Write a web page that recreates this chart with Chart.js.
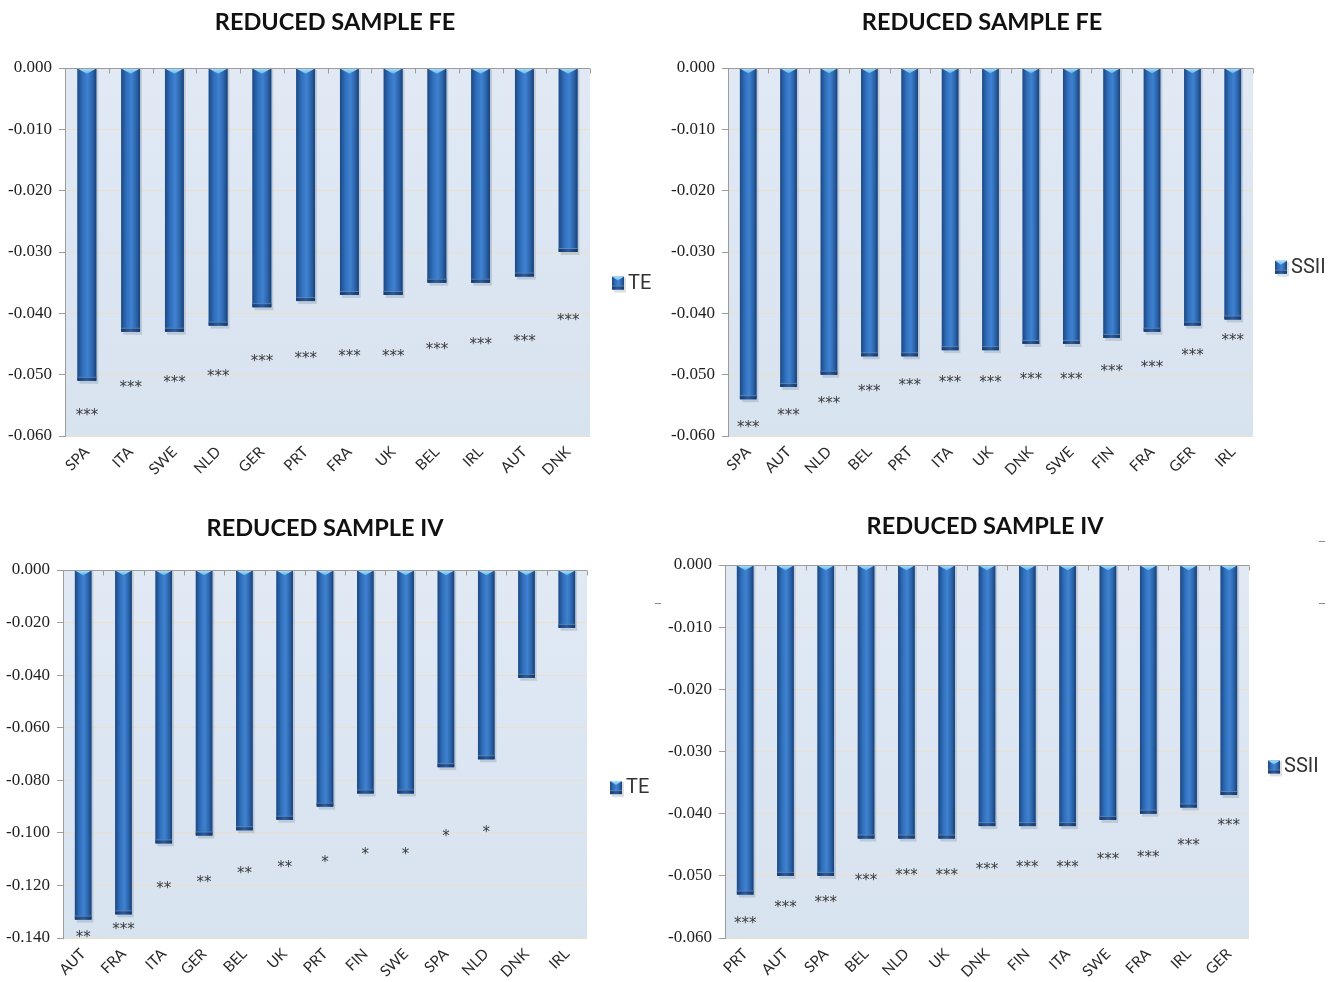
<!DOCTYPE html>
<html>
<head>
<meta charset="utf-8">
<script src="https://cdn.jsdelivr.net/npm/chart.js@4.4.1/dist/chart.umd.min.js"></script>
<style>
  html, body { margin: 0; padding: 0; background: #ffffff; width: 1330px; height: 982px; overflow: hidden; }
  .panel { position: absolute; }
  .dash { position: absolute; width: 6px; height: 1px; background: #8a8a8a; }
</style>
</head>
<body>
<div class="panel" style="left:0;top:0;"><canvas id="feTe" width="665" height="490"></canvas></div>
<div class="panel" style="left:665px;top:0;"><canvas id="feSsii" width="665" height="490"></canvas></div>
<div class="panel" style="left:0;top:490px;"><canvas id="ivTe" width="665" height="492"></canvas></div>
<div class="panel" style="left:665px;top:490px;"><canvas id="ivSsii" width="665" height="492"></canvas></div>
<div class="dash" style="left:655px;top:603px;"></div>
<div class="dash" style="left:1319px;top:541px;"></div>
<div class="dash" style="left:1319px;top:603px;"></div>

<script>
// ---- Reduced sample, fixed effects: TE ----
const feTeCountries = ['SPA', 'ITA', 'SWE', 'NLD', 'GER', 'PRT', 'FRA', 'UK', 'BEL', 'IRL', 'AUT', 'DNK'];
const feTeValues    = [-0.051, -0.043, -0.043, -0.042, -0.039, -0.038, -0.037, -0.037, -0.035, -0.035, -0.034, -0.030];
const feTeStars     = ['***', '***', '***', '***', '***', '***', '***', '***', '***', '***', '***', '***'];
const feTeStarAt    = [-0.0560, -0.0513, -0.0505, -0.0495, -0.0471, -0.0466, -0.0463, -0.0463, -0.0451, -0.0443, -0.0438, -0.0404];

// ---- Reduced sample, fixed effects: SSII ----
const feSsiiCountries = ['SPA', 'AUT', 'NLD', 'BEL', 'PRT', 'ITA', 'UK', 'DNK', 'SWE', 'FIN', 'FRA', 'GER', 'IRL'];
const feSsiiValues    = [-0.054, -0.052, -0.050, -0.047, -0.047, -0.046, -0.046, -0.045, -0.045, -0.044, -0.043, -0.042, -0.041];
const feSsiiStars     = ['***', '***', '***', '***', '***', '***', '***', '***', '***', '***', '***', '***', '***'];
const feSsiiStarAt    = [-0.0579, -0.0559, -0.0540, -0.0520, -0.0511, -0.0505, -0.0505, -0.0501, -0.0501, -0.0487, -0.0481, -0.0462, -0.0437];

// ---- Reduced sample, instrumental variables: TE ----
const ivTeCountries = ['AUT', 'FRA', 'ITA', 'GER', 'BEL', 'UK', 'PRT', 'FIN', 'SWE', 'SPA', 'NLD', 'DNK', 'IRL'];
const ivTeValues    = [-0.133, -0.131, -0.104, -0.101, -0.099, -0.095, -0.090, -0.085, -0.085, -0.075, -0.072, -0.041, -0.022];
const ivTeStars     = ['**', '***', '**', '**', '**', '**', '*', '*', '*', '*', '*', '', ''];
const ivTeStarAt    = [-0.1381, -0.1352, -0.1196, -0.1171, -0.1138, -0.1116, -0.1095, -0.1066, -0.1066, -0.0998, -0.0983, null, null];

// ---- Reduced sample, instrumental variables: SSII ----
const ivSsiiCountries = ['PRT', 'AUT', 'SPA', 'BEL', 'NLD', 'UK', 'DNK', 'FIN', 'ITA', 'SWE', 'FRA', 'IRL', 'GER'];
const ivSsiiValues    = [-0.053, -0.050, -0.050, -0.044, -0.044, -0.044, -0.042, -0.042, -0.042, -0.041, -0.040, -0.039, -0.037];
const ivSsiiStars     = ['***', '***', '***', '***', '***', '***', '***', '***', '***', '***', '***', '***', '***'];
const ivSsiiStarAt    = [-0.0569, -0.0544, -0.0536, -0.0501, -0.0492, -0.0492, -0.0482, -0.0479, -0.0479, -0.0466, -0.0463, -0.0444, -0.0412];

// y-axis ranges and tick steps
const feAxis = { min: -0.06, max: 0, step: 0.01 };
const ivTeAxis = { min: -0.14, max: 0, step: 0.02 };
const ivSsiiAxis = { min: -0.06, max: 0, step: 0.01 };

const NARROW = "'Liberation Sans Narrow', 'Arial Narrow', 'Roboto', sans-serif";

// Cylinder-like bar shading: side gradient, darker foot, light-cyan top face
function paintBar(ctx, left, top, width, height) {
  const right = left + width;
  ctx.fillStyle = 'rgba(40,55,80,0.16)';
  ctx.fillRect(left + 2, top + 1, width, height + 2);
  const side = ctx.createLinearGradient(left, 0, right, 0);
  side.addColorStop(0, '#1d4884');
  side.addColorStop(0.3, '#3171be');
  side.addColorStop(0.55, '#3f82d1');
  side.addColorStop(0.8, '#2c64aa');
  side.addColorStop(1, '#184179');
  ctx.fillStyle = side;
  ctx.fillRect(left, top, width, height);
  const capH = Math.min(4, height);
  const foot = ctx.createLinearGradient(left, 0, right, 0);
  foot.addColorStop(0, '#173a6b');
  foot.addColorStop(0.5, '#2a5b9c');
  foot.addColorStop(1, '#163767');
  ctx.fillStyle = foot;
  ctx.fillRect(left, top + height - capH, width, capH);
  ctx.fillStyle = 'rgba(140,180,225,0.55)';
  ctx.fillRect(left, top + height - capH, width, 1);
  const faceH = Math.max(4, width * 0.28);
  const face = ctx.createLinearGradient(0, top, 0, top + faceH);
  face.addColorStop(0, '#a9e2fc');
  face.addColorStop(1, '#5fb6ec');
  ctx.fillStyle = face;
  ctx.beginPath();
  ctx.moveTo(left, top);
  ctx.lineTo(right, top);
  ctx.lineTo(left + width / 2, top + faceH);
  ctx.closePath();
  ctx.fill();
}

const panelDeco = {
  id: 'panelDeco',
  beforeDraw(chart) {
    const { ctx, chartArea: a } = chart;
    const bg = ctx.createLinearGradient(0, a.top, 0, a.bottom);
    bg.addColorStop(0, '#e0e9f4');
    bg.addColorStop(1, '#d8e3f0');
    ctx.save();
    ctx.fillStyle = bg;
    ctx.fillRect(a.left, a.top, a.right - a.left, a.bottom - a.top);
    ctx.restore();
  },
  afterDatasetsDraw(chart, args, opts) {
    const { ctx, chartArea: a } = chart;
    const meta = chart.getDatasetMeta(0);
    const xs = chart.scales.x;
    const ys = chart.scales.y;
    ctx.save();
    // bars
    meta.data.forEach((el) => {
      const { x, y, base, width } = el.getProps(['x', 'y', 'base', 'width'], true);
      const top = Math.min(y, base);
      const h = Math.abs(base - y);
      paintBar(ctx, x - width / 2, top, width, h);
    });
    // category axis at zero with inward tick marks between categories
    const zeroY = Math.round(ys.getPixelForValue(0)) + 0.5;
    ctx.strokeStyle = '#9c9c9c';
    ctx.lineWidth = 1;
    ctx.beginPath();
    ctx.moveTo(a.left, zeroY);
    ctx.lineTo(a.right, zeroY);
    const n = xs.getLabels().length;
    const half = (xs.getPixelForValue(1) - xs.getPixelForValue(0)) / 2;
    for (let i = 0; i <= n; i++) {
      const tx = Math.round(xs.getPixelForValue(Math.min(i, n - 1)) + (i === n ? half : -half)) + 0.5;
      ctx.moveTo(tx, zeroY);
      ctx.lineTo(tx, zeroY + 5);
    }
    ctx.stroke();
    // significance stars
    ctx.fillStyle = '#3a3a3a';
    ctx.font = "15px 'DejaVu Sans', sans-serif";
    ctx.textAlign = 'center';
    ctx.textBaseline = 'alphabetic';
    opts.stars.forEach((s, i) => {
      if (!s || opts.starAt[i] === null) return;
      const px = meta.data[i].x;
      const py = ys.getPixelForValue(opts.starAt[i]);
      ctx.fillText(s, px, py + 9);
    });
    ctx.restore();
  },
  afterDraw(chart, args, opts) {
    // legend entry beside the plot
    const { ctx, chartArea: a } = chart;
    const lx = a.right + opts.legendDx;
    const ly = a.top + (a.bottom - a.top) * opts.legendFrac;
    ctx.save();
    paintBar(ctx, lx, ly - 6, 12, 13);
    ctx.fillStyle = '#333333';
    ctx.font = '20px ' + NARROW;
    ctx.textAlign = 'left';
    ctx.textBaseline = 'middle';
    ctx.fillText(chart.data.datasets[0].label, lx + 16, ly + 1);
    ctx.restore();
  }
};

function makePanel(id, p) {
  return new Chart(document.getElementById(id), {
    type: 'bar',
    data: {
      labels: p.labels,
      datasets: [{
        label: p.series,
        data: p.values,
        backgroundColor: '#3473c0',
        borderWidth: 0,
        barPercentage: p.barPct,
        categoryPercentage: 1
      }]
    },
    plugins: [panelDeco],
    options: {
      responsive: false,
      animation: false,
      events: [],
      layout: { padding: { left: p.padL, right: p.padR, top: 0, bottom: 0 } },
      plugins: {
        legend: { display: false },
        tooltip: { enabled: false },
        title: {
          display: true,
          text: p.title,
          color: '#111111',
          font: { family: 'Lato', size: 23.5, weight: 'bold', lineHeight: 1.2 },
          padding: { top: p.titleTop, bottom: p.titleBottom }
        },
        panelDeco: { stars: p.stars, starAt: p.starAt, legendDx: p.legendDx, legendFrac: p.legendFrac }
      },
      scales: {
        x: {
          type: 'category',
          position: 'bottom',
          offset: true,
          grid: { display: false, drawTicks: false },
          border: { display: false },
          ticks: {
            color: '#2a2a2a',
            font: { family: 'Lato', size: 15 },
            minRotation: 45,
            maxRotation: 45,
            padding: 7,
            autoSkip: false
          },
          afterFit: (s) => { s.height = p.xHeight; }
        },
        y: {
          min: p.axis.min,
          max: p.axis.max,
          position: 'left',
          grid: { color: 'rgba(236,222,200,0.95)', lineWidth: 1, tickColor: '#9c9c9c', tickLength: 6, drawTicks: true },
          border: { display: true, color: '#9c9c9c' },
          ticks: {
            stepSize: p.axis.step,
            color: '#1e1e1e',
            padding: 7,
            font: { family: "'Liberation Serif', 'DejaVu Serif', serif", size: 17 },
            callback: (v) => Number(v).toFixed(3)
          },
          afterFit: (s) => { s.width = p.yWidth; }
        },
        legendRoom: {
          type: 'linear',
          position: 'right',
          display: true,
          grid: { display: false, drawTicks: false },
          border: { display: false },
          ticks: { display: false },
          afterFit: (s) => { s.width = p.room; }
        }
      }
    }
  });
}

makePanel('feTe', {
  title: 'REDUCED SAMPLE FE', series: 'TE',
  labels: feTeCountries, values: feTeValues, stars: feTeStars, starAt: feTeStarAt,
  axis: feAxis, barPct: 0.43,
  padL: 5, padR: 0, yWidth: 60, room: 75, xHeight: 54,
  titleTop: 8.5, titleBottom: 31.3, legendDx: 22, legendFrac: 0.583
});

makePanel('feSsii', {
  title: 'REDUCED SAMPLE FE', series: 'SSII',
  labels: feSsiiCountries, values: feSsiiValues, stars: feSsiiStars, starAt: feSsiiStarAt,
  axis: feAxis, barPct: 0.41,
  padL: 0, padR: 31, yWidth: 63, room: 46, xHeight: 54,
  titleTop: 8.5, titleBottom: 31.3, legendDx: 22, legendFrac: 0.54
});

makePanel('ivTe', {
  title: 'REDUCED SAMPLE IV', series: 'TE',
  labels: ivTeCountries, values: ivTeValues, stars: ivTeStars, starAt: ivTeStarAt,
  axis: ivTeAxis, barPct: 0.41,
  padL: 0, padR: 15, yWidth: 63, room: 63, xHeight: 44,
  titleTop: 24.5, titleBottom: 27.3, legendDx: 23, legendFrac: 0.59
});

makePanel('ivSsii', {
  title: 'REDUCED SAMPLE IV', series: 'SSII',
  labels: ivSsiiCountries, values: ivSsiiValues, stars: ivSsiiStars, starAt: ivSsiiStarAt,
  axis: ivSsiiAxis, barPct: 0.41,
  padL: 0, padR: 25, yWidth: 60, room: 56, xHeight: 44,
  titleTop: 22.5, titleBottom: 24.3, legendDx: 19, legendFrac: 0.54
});
</script>
</body>
</html>
